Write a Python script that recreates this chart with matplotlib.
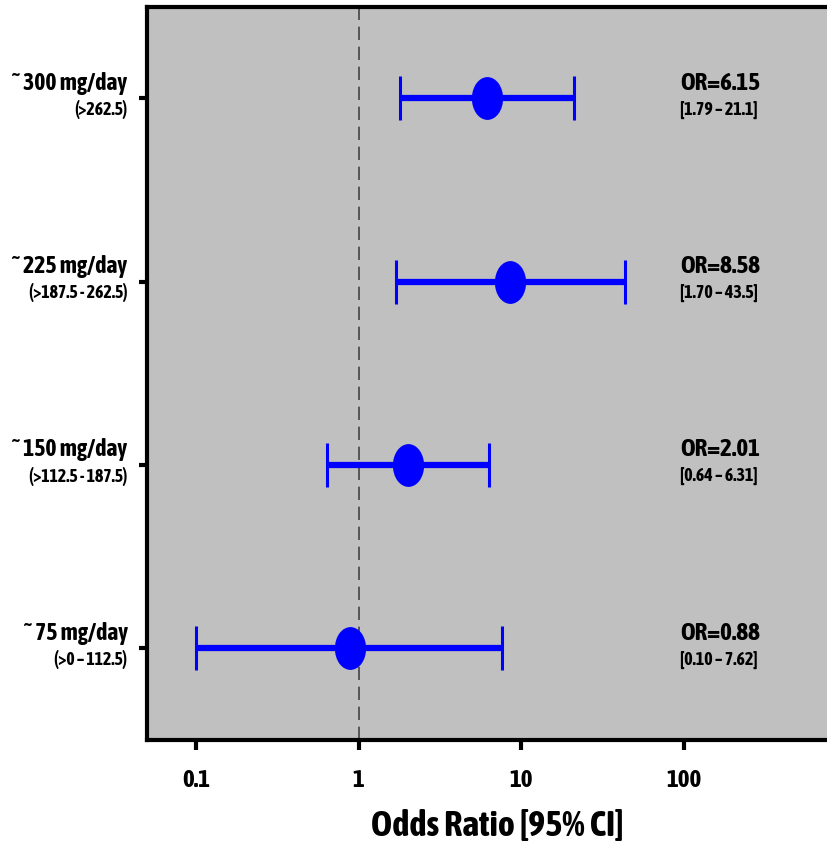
import numpy as np
import matplotlib.pyplot as plt
from matplotlib import font_manager
from matplotlib.markers import MarkerStyle
from matplotlib.transforms import Affine2D

doses = ['\u02dc 300 mg/day', '\u02dc 225 mg/day', '\u02dc 150 mg/day', '\u02dc 75 mg/day']
ranges = ['(>262.5)', '(>187.5 - 262.5)', '(>112.5 - 187.5)', '(>0 \u2013 112.5)']
odds = [6.15, 8.58, 2.01, 0.88]
lower = [1.79, 1.70, 0.64, 0.10]
upper = [21.1, 43.5, 6.31, 7.62]
ci_text = ['[1.79 \u2013 21.1]', '[1.70 \u2013 43.5]', '[0.64 \u2013 6.31]', '[0.10 \u2013 7.62]']
xticks = [0.1, 1, 10, 100]
xticklabels = ['0.1', '1', '10', '100']

# look for a condensed bold face, otherwise shrink text a bit
fonts = font_manager.fontManager.ttflist
narrow_bold = sorted({f.name for f in fonts
                      if ('Narrow' in f.name or 'Condensed' in f.name)
                      and (f.weight in ('bold', 700) or (isinstance(f.weight, int) and f.weight >= 600))})
narrow_any = sorted({f.name for f in fonts if 'Narrow' in f.name or 'Condensed' in f.name})
if narrow_bold:
    fam = [narrow_bold[0], 'DejaVu Sans']
    k = 1.0
elif narrow_any:
    fam = [narrow_any[0], 'DejaVu Sans']
    k = 1.0
else:
    fam = ['Liberation Sans', 'DejaVu Sans']
    k = 0.84
plt.rcParams['font.family'] = fam
plt.rcParams['font.weight'] = 'bold'

fig = plt.figure(figsize=(8.28, 8.42), dpi=100)
ax = fig.add_axes([0.1775, 0.121, 0.845, 0.871])
ax.set_facecolor('#c0c0c0')

y = np.arange(len(odds), 0, -1)
odds = np.array(odds)
err = np.array([odds - np.array(lower), np.array(upper) - odds])

ax.axvline(1, color='#444444', lw=1.2, ls=(0, (8, 4)), zorder=1)
ax.errorbar(odds, y, xerr=err, fmt='none', ecolor='#0000ff', elinewidth=4.5,
            capsize=16, capthick=2.2, zorder=3)
oval = MarkerStyle('o', transform=Affine2D().scale(1, 1.37))
ax.plot(odds, y, ls='none', marker=oval, ms=22.5, color='#0000ff', mec='none', zorder=4)

ax.set_xscale('log')
ax.set_xlim(0.05, 1000)
ax.set_ylim(0.5, 4.5)
ax.set_xticks(xticks)
ax.set_xticklabels(xticklabels, fontsize=18 * k, fontweight='bold')
ax.minorticks_off()
ax.set_yticks(y)
ax.set_yticklabels([])
ax.tick_params(axis='x', length=7, width=3, pad=14)
ax.tick_params(axis='y', length=6, width=3)
for s in ax.spines.values():
    s.set_linewidth(3)

for yi, d, r, o, c in zip(y, doses, ranges, odds, ci_text):
    ax.annotate(d, (0, yi), xycoords=('axes fraction', 'data'), xytext=(-14, 11),
                textcoords='offset points', ha='right', va='center', fontsize=17 * k, fontweight='bold')
    ax.annotate(r, (0, yi), xycoords=('axes fraction', 'data'), xytext=(-14, -8),
                textcoords='offset points', ha='right', va='center', fontsize=12.8 * k, fontweight='bold')
    ax.annotate('OR=%.2f' % o, (95, yi), xytext=(0, 11), textcoords='offset points',
                ha='left', va='center', fontsize=18 * k, fontweight='bold')
    ax.annotate(c, (95, yi), xytext=(0, -8), textcoords='offset points',
                ha='left', va='center', fontsize=13 * k, fontweight='bold')

ax.set_xlabel('Odds Ratio [95% CI]', fontsize=26 * k, fontweight='bold', labelpad=12)

fig.savefig('out.png', dpi=100)
